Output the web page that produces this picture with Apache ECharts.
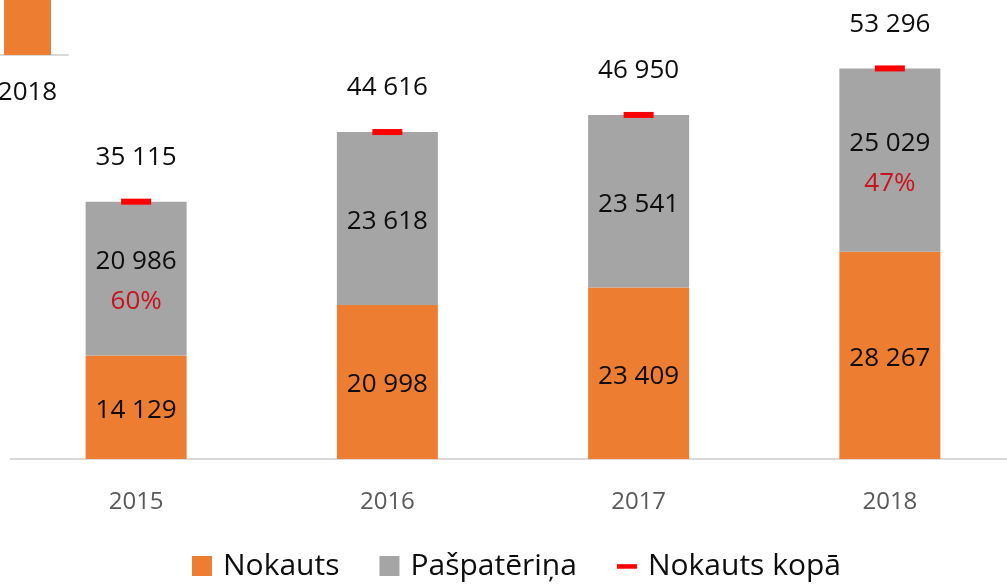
<!DOCTYPE html>
<html>
<head>
<meta charset="utf-8">
<script src="https://cdn.jsdelivr.net/npm/echarts@6/dist/echarts.min.js"></script>
<style>html,body{margin:0;padding:0;background:#fff}#c{width:1007px;height:584px}</style>
</head>
<body>
<div id="c"></div>
<script>
const years = ['2015', '2016', '2017', '2018'];
const nokauts = [14129, 20998, 23409, 28267];
const paspateriņa = [20986, 23618, 23541, 25029];
const kopa = [35115, 44616, 46950, 53296];
const pctLabels = ['60%', '', '', '47%'];
const edgeCategories = ['2018'];
const edgeValues = [100];

const FONT = 'Open Sans';
const TXT = '#0d0d0d';
const fmt = v => String(v).replace(/\B(?=(\d{3})+(?!\d))/g, ' ');

const chart = echarts.init(document.getElementById('c'), null, { renderer: 'canvas' });
chart.setOption({
  animation: false,
  backgroundColor: '#ffffff',
  textStyle: { fontFamily: FONT },
  grid: [
    { left: 10.5, width: 1005, top: 19.3, height: 439.7, containLabel: false, outerBoundsMode: 'none' },
    { left: -13, width: 81, top: -100, height: 155, containLabel: false, outerBoundsMode: 'none' }
  ],
  xAxis: [
    {
      type: 'category', data: years, gridIndex: 0,
      axisLine: { lineStyle: { color: '#d9d9d9', width: 2 } },
      axisTick: { show: false },
      axisLabel: { color: '#595959', fontSize: 24, margin: 31, fontFamily: FONT }
    },
    {
      type: 'category', data: edgeCategories, gridIndex: 1,
      axisLine: { lineStyle: { color: '#d9d9d9', width: 2 } },
      axisTick: { show: false },
      axisLabel: { color: TXT, fontSize: 26, margin: 25, fontFamily: FONT }
    }
  ],
  yAxis: [
    { type: 'value', min: 0, max: 60000, gridIndex: 0, show: false, splitLine: { show: false } },
    { type: 'value', min: 0, max: 100, gridIndex: 1, show: false, splitLine: { show: false } }
  ],
  legend: {
    left: 192, top: 551, padding: 0,
    itemWidth: 20, itemHeight: 20, itemGap: 40,
    textStyle: { fontSize: 30, color: TXT, fontFamily: FONT, padding: [0, 0, 0, 6] },
    data: [
      { name: 'Nokauts', icon: 'rect' },
      { name: 'Pašpatēriņa', icon: 'rect' },
      { name: 'Nokauts kopā', icon: 'path://M0,0 M0,8 L22,8 L22,13 L0,13 Z M22,20' }
    ]
  },
  series: [
    {
      name: 'Nokauts', type: 'bar', stack: 'total', data: nokauts,
      barWidth: 101, itemStyle: { color: '#ED7D31' },
      label: { show: true, position: 'inside', offset: [0, 3], color: TXT, fontSize: 26, fontFamily: FONT,
        formatter: p => fmt(p.value) }
    },
    {
      name: 'Pašpatēriņa', type: 'bar', stack: 'total', data: paspateriņa,
      barWidth: 101, itemStyle: { color: '#A5A5A5' },
      label: {
        show: true, position: 'inside', offset: [0, 3], color: TXT, fontSize: 26, lineHeight: 40, fontFamily: FONT,
        formatter: p => fmt(p.value) + (pctLabels[p.dataIndex] ? '\n{p|' + pctLabels[p.dataIndex] + '}' : ''),
        rich: { p: { color: '#C8141E', fontSize: 26, lineHeight: 40, fontFamily: FONT } }
      }
    },
    {
      name: 'Nokauts kopā', type: 'scatter', data: kopa, z: 5,
      symbol: 'rect', symbolSize: [30, 6], itemStyle: { color: '#FF0000', opacity: 1 },
      label: { show: true, position: 'top', distance: 28, color: TXT, fontSize: 26, fontFamily: FONT,
        formatter: p => fmt(p.value) }
    },
    {
      name: 'Nokauts', type: 'bar', xAxisIndex: 1, yAxisIndex: 1, data: edgeValues,
      barWidth: 47, itemStyle: { color: '#ED7D31' }, label: { show: false }
    }
  ]
});
</script>
</body>
</html>
